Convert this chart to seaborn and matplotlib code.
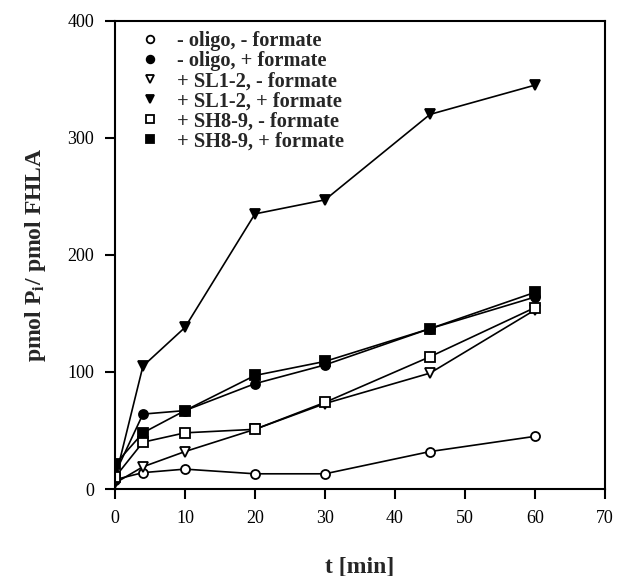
import numpy as np
import pandas as pd
import matplotlib
matplotlib.use("Agg")
import matplotlib.pyplot as plt
import seaborn as sns
from matplotlib.lines import Line2D

# datos
t = [0, 4, 10, 20, 30, 45, 60]
oligo_menos_menos = [8, 14, 17, 13, 13, 32, 45]
oligo_menos_mas = [13, 64, 67, 90, 106, 137, 164]
sl_menos = [5, 19, 32, 51, 73, 99, 153]
sl_mas = [8, 105, 138, 235, 247, 320, 345]
sh_menos = [10, 40, 48, 51, 74, 113, 155]
sh_mas = [21, 48, 67, 97, 109, 137, 168]

etiquetas = ["- oligo, - formate", "- oligo, + formate", "+ SL1-2, - formate",
             "+ SL1-2, + formate", "+ SH8-9, - formate", "+ SH8-9, + formate"]
series = [oligo_menos_menos, oligo_menos_mas, sl_menos, sl_mas, sh_menos, sh_mas]
marcadores = ['o', 'o', 'v', 'v', 's', 's']
relleno = ['white', 'black', 'white', 'black', 'white', 'black']

sns.set_style("ticks")
plt.rcParams['font.family'] = ['Liberation Serif', 'DejaVu Serif']
plt.rcParams['mathtext.fontset'] = 'stix'

fig, ax = plt.subplots(figsize=(6.18, 5.76), dpi=100)
fig.subplots_adjust(left=0.186, right=0.979, top=0.964, bottom=0.151)

for i in range(len(series)):
    sns.lineplot(x=t, y=series[i], ax=ax, color='black', linewidth=1.2,
                 marker=marcadores[i], markersize=6.5, markerfacecolor=relleno[i],
                 markeredgecolor='black', markeredgewidth=1.3, legend=False)

ax.set_xlim(0, 70)
ax.set_ylim(0, 400)
ax.set_xticks([0, 10, 20, 30, 40, 50, 60, 70])
ax.set_yticks([0, 100, 200, 300, 400])
ax.set_xlabel("t [min]", fontsize=17, fontweight='bold', labelpad=21)
ax.set_ylabel(r"pmol P$_\mathbf{i}$/ pmol FHLA", fontsize=17, fontweight='bold', labelpad=14)
ax.tick_params(axis='both', direction='out', length=7, width=1.5, pad=8,
               labelsize=13, colors='black')
for s in ax.spines.values():
    s.set_linewidth(1.5)
    s.set_color('black')

manejadores = [Line2D([], [], linestyle='none', marker=marcadores[i], markersize=5.5,
                      markerfacecolor=relleno[i], markeredgecolor='black', markeredgewidth=1.3)
               for i in range(len(series))]
ax.legend(manejadores, etiquetas, loc='upper left', bbox_to_anchor=(0.01, 1.017),
          frameon=False, handlelength=1.2, handletextpad=0.7, labelspacing=0.0,
          prop={'family': 'Liberation Serif', 'weight': 'bold', 'size': 14.7})

plt.savefig("out.png", dpi=100)
